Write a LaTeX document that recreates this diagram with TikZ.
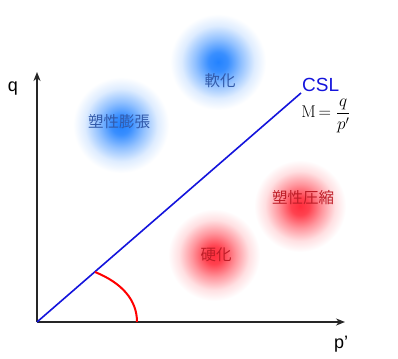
\documentclass[tikz,border=0pt]{standalone}
\usepackage{fontspec}
\setmainfont{Liberation Sans}
\newfontfamily\jpfont{Noto Sans CJK JP}
\newfontfamily\lmfont{Latin Modern Roman}
\usetikzlibrary{arrows.meta}
\definecolor{blobblue}{RGB}{35,130,255}
\definecolor{blobred}{RGB}{255,45,60}
\pgfdeclareradialshading{blueblobsh}{\pgfpointorigin}{color(0bp)=(blobblue); color(5bp)=(blobblue!90!white); color(12bp)=(blobblue!50!white); color(19bp)=(blobblue!15!white); color(25bp)=(white); color(50bp)=(white)}
\pgfdeclareradialshading{redblobsh}{\pgfpointorigin}{color(0bp)=(blobred); color(5bp)=(blobred!90!white); color(12bp)=(blobred!50!white); color(19bp)=(blobred!15!white); color(25bp)=(white); color(50bp)=(white)}
\definecolor{txtblue}{RGB}{50,90,170}
\definecolor{txtred}{RGB}{190,30,40}
\definecolor{cslblue}{RGB}{20,20,220}
\tikzset{
  blueblob/.style={shading=blueblobsh},
  redblob/.style={shading=redblobsh},
  bluetxt/.style={text=txtblue, font=\jpfont\fontsize{15.5}{18}\selectfont, inner sep=0pt},
  redtxt/.style={text=txtred, font=\jpfont\fontsize{15.5}{18}\selectfont, inner sep=0pt},
  axislab/.style={font=\fontsize{18}{20}\selectfont, inner sep=0pt},
  axisline/.style={line width=2pt, black!85, -{Stealth[length=9pt,width=7pt]}},
}
\begin{document}
\begin{tikzpicture}[x=1pt,y=-1pt]
\useasboundingbox (0,0) rectangle (398,358);
\fill[white] (0,0) rectangle (398,358);
% blobs
\shade[blueblob] (121,125) circle (48);
\shade[blueblob] (218,62) circle (48);
\shade[redblob] (300,206) circle (46);
\shade[redblob] (214,255) circle (46);
% region labels
\node[bluetxt] (expand) at (119,122) {塑性膨張};
\node[bluetxt] (soft) at (220,81) {軟化};
\node[redtxt] (comp) at (303,198) {塑性圧縮};
\node[redtxt] (hard) at (216,255) {硬化};
% axes
\coordinate (O) at (37,322);
\coordinate (ytop) at (37,72);
\coordinate (xend) at (345,322);
\draw[axisline] (O) -- (ytop);
\draw[axisline] (O) -- (xend);
\node[axislab] (q) at (13,89) {q};
\node[axislab] (p) at (341,344) {p'};
% CSL line
\coordinate (cslend) at (301,93);
\draw[cslblue, line width=1.6pt] (O) -- (cslend);
\node[text=cslblue, font=\fontsize{19}{22}\selectfont, inner sep=0pt, anchor=south west] (csl) at (302,92) {CSL};
\node[font=\lmfont\fontsize{17}{19}\selectfont, inner sep=0pt] (M) at (326,116) {M$\,=\displaystyle\frac{q}{p'}$};
% angle arc
\coordinate (a1) at (95,272);
\coordinate (a2) at (137,322);
\draw[red, line width=2pt] (a1) .. controls (122,283) and (137,300) .. (a2);
\end{tikzpicture}
\end{document}
